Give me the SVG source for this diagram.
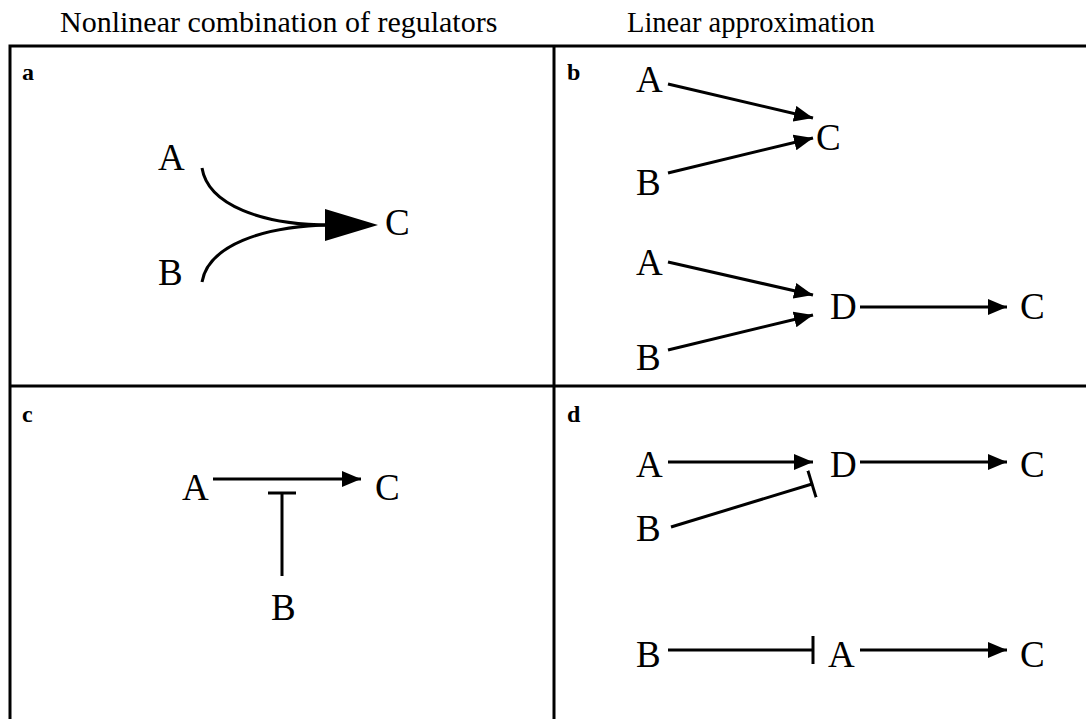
<svg xmlns="http://www.w3.org/2000/svg" width="1086" height="719" viewBox="0 0 1086 719">
<style>
.title{font-family:"Liberation Serif",serif;font-size:30px;fill:#000}
.node{font-family:"Liberation Serif",serif;font-size:37px;fill:#000}
.lab{font-family:"Liberation Serif",serif;font-size:24px;font-weight:bold;fill:#000}
.frame{stroke:#000;stroke-width:3;fill:none}
.edge{stroke:#000;stroke-width:3;fill:none}
</style>
<defs>
<marker id="arr" markerUnits="userSpaceOnUse" markerWidth="19" markerHeight="16" refX="19" refY="8" orient="auto" viewBox="0 0 19 16">
<path d="M0,0 L19,8 L0,16 z" fill="#000"/>
</marker>
<marker id="bar" markerUnits="userSpaceOnUse" markerWidth="4" markerHeight="28" refX="2" refY="14" orient="auto" viewBox="0 0 4 28">
<path d="M2,0 L2,28" stroke="#000" stroke-width="3"/>
</marker>
</defs>
<rect width="1086" height="719" fill="#fff"/>
<g id="titles">
<text class="title" x="60" y="32">Nonlinear combination of regulators</text>
<text class="title" x="627" y="32" style="font-size:28.5px">Linear approximation</text>
</g>
<g id="frame">
<path class="frame" d="M10,719 V46 H1086 M554,46 V719 M10,386 H1086"/>
</g>
<g id="labels">
<text class="lab" x="22" y="80">a</text>
<text class="lab" x="567" y="80">b</text>
<text class="lab" x="22" y="422">c</text>
<text class="lab" x="567" y="422">d</text>
</g>
<g id="panel-a">
<text class="node" x="158" y="170">A</text>
<text class="node" x="158" y="285">B</text>
<text class="node" x="385" y="235">C</text>
</g>
<g id="panel-b">
<text class="node" x="636" y="92">A</text>
<text class="node" x="636" y="195">B</text>
<text class="node" x="816" y="150">C</text>
<text class="node" x="636" y="275">A</text>
<text class="node" x="636" y="370">B</text>
<text class="node" x="830" y="319">D</text>
<text class="node" x="1020" y="319">C</text>
</g>
<g id="panel-c">
<text class="node" x="182" y="500">A</text>
<text class="node" x="375" y="500">C</text>
<text class="node" x="271" y="620">B</text>
</g>
<g id="panel-d">
<text class="node" x="636" y="477">A</text>
<text class="node" x="830" y="477">D</text>
<text class="node" x="1020" y="477">C</text>
<text class="node" x="636" y="541">B</text>
<text class="node" x="636" y="667">B</text>
<text class="node" x="828" y="667">A</text>
<text class="node" x="1020" y="667">C</text>
</g>
<g id="connectors">
<path class="edge" d="M202,168 C208,205 262,225 330,225"/>
<path class="edge" d="M202,282 C208,246 262,226 330,225"/>
<polygon points="325,209 378,225 325,241" fill="#000"/>
<line class="edge" x1="668" y1="84" x2="813" y2="118" marker-end="url(#arr)"/>
<line class="edge" x1="668" y1="173" x2="813" y2="138" marker-end="url(#arr)"/>
<line class="edge" x1="668" y1="262" x2="813" y2="295" marker-end="url(#arr)"/>
<line class="edge" x1="668" y1="350" x2="813" y2="315" marker-end="url(#arr)"/>
<line class="edge" x1="860" y1="307" x2="1007" y2="307" marker-end="url(#arr)"/>
<line class="edge" x1="213" y1="479" x2="361" y2="479" marker-end="url(#arr)"/>
<line class="edge" x1="282" y1="576" x2="282" y2="493" marker-end="url(#bar)"/>
<line class="edge" x1="668" y1="462" x2="813" y2="462" marker-end="url(#arr)"/>
<line class="edge" x1="860" y1="462" x2="1007" y2="462" marker-end="url(#arr)"/>
<line class="edge" x1="671" y1="527" x2="812" y2="484" marker-end="url(#bar)"/>
<line class="edge" x1="668" y1="650" x2="813" y2="650" marker-end="url(#bar)"/>
<line class="edge" x1="860" y1="650" x2="1007" y2="650" marker-end="url(#arr)"/>
</g>
</svg>
